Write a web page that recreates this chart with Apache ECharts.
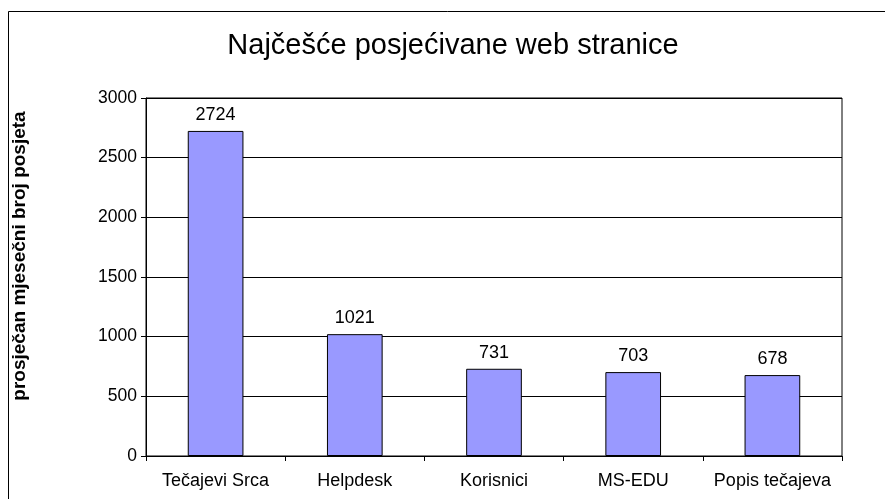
<!DOCTYPE html>
<html>
<head>
<meta charset="utf-8">
<script src="https://cdn.jsdelivr.net/npm/echarts@6/dist/echarts.min.js"></script>
<style>html,body{margin:0;padding:0;background:#fff}#c{width:885px;height:499px}</style>
</head>
<body>
<div id="c"></div>
<script>
const categories = ['Tečajevi Srca', 'Helpdesk', 'Korisnici', 'MS-EDU', 'Popis tečajeva'];
const visits = [2724, 1021, 731, 703, 678];
const titleText = 'Najčešće posjećivane web stranice';
const yAxisTitle = 'prosječan mjesečni broj posjeta';

const chart = echarts.init(document.getElementById('c'), null, {renderer: 'canvas'});
const font = '"Liberation Sans", Arial, sans-serif';
chart.setOption({
  animation: false,
  backgroundColor: '#fff',
  textStyle: {fontFamily: font},
  graphic: [{
    type: 'rect', shape: {x: 8.5, y: 11.5, width: 1000, height: 1000},
    style: {fill: 'none', stroke: '#000', lineWidth: 1}, z: 100, silent: true
  }, {
    type: 'text', x: 453, y: 46, silent: true,
    style: {text: titleText, font: 'normal 29px ' + font, fill: '#000', align: 'center', verticalAlign: 'middle'}
  }, {
    type: 'text', x: 20, y: 256, rotation: Math.PI / 2, silent: true,
    style: {text: yAxisTitle, font: 'bold 19px ' + font, fill: '#000', align: 'center', verticalAlign: 'middle'}
  }],
  grid: {left: 146, right: 43, top: 98, bottom: 43, show: true, borderColor: '#000', borderWidth: 1, containLabel: false},
  xAxis: {
    type: 'category', data: categories,
    axisLine: {lineStyle: {color: '#000'}},
    axisTick: {show: true, length: 5, lineStyle: {color: '#000'}},
    axisLabel: {color: '#000', fontSize: 18, margin: 16, interval: 0, fontFamily: font}
  },
  yAxis: {
    type: 'value', min: 0, max: 3000, interval: 500,
    axisLine: {show: true, lineStyle: {color: '#000'}},
    axisTick: {show: true, length: 5, lineStyle: {color: '#000'}},
    axisLabel: {color: '#000', fontSize: 17.5, margin: 9, fontFamily: font, formatter: v => String(v)},
    splitLine: {show: true, lineStyle: {color: '#000', width: 1}}
  },
  series: [{
    type: 'bar', data: visits, barWidth: '40%',
    itemStyle: {color: '#9999FF', borderColor: '#000', borderWidth: 1},
    label: {show: true, position: 'top', distance: 7, color: '#000', fontSize: 18, fontFamily: font}
  }]
});
</script>
</body>
</html>
